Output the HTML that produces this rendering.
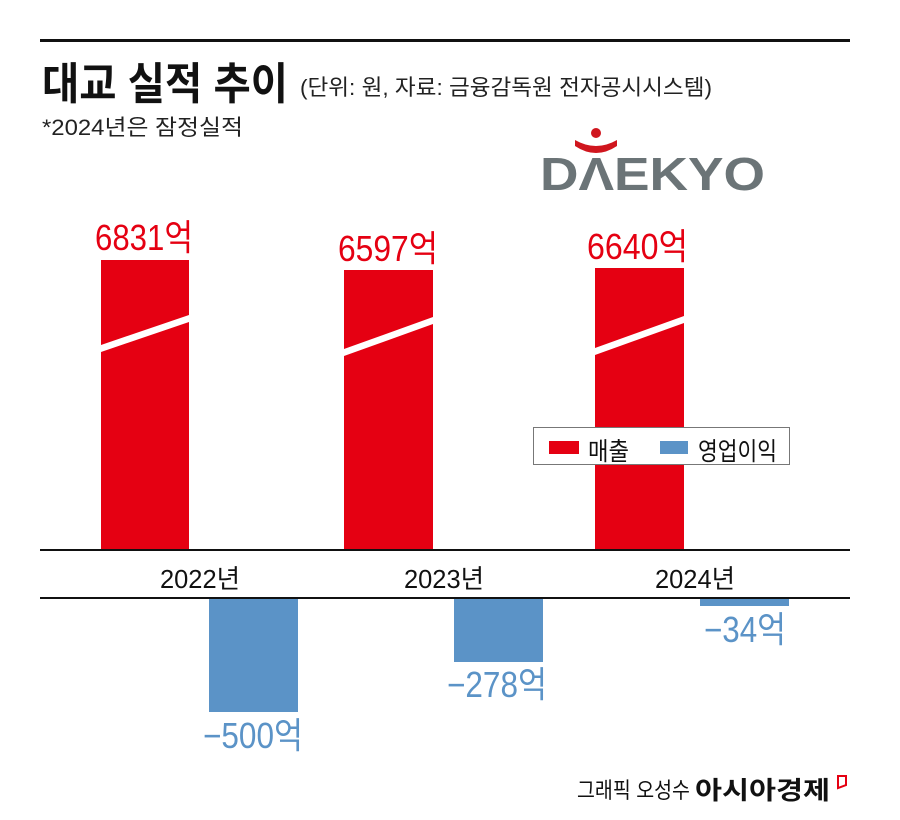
<!DOCTYPE html>
<html><head><meta charset="utf-8"><style>
body{margin:0;background:#fff;}
svg{display:block;}
text{font-family:"Liberation Sans","Noto Sans CJK KR",sans-serif;}
</style></head><body>
<svg width="900" height="820" viewBox="0 0 900 820" xmlns="http://www.w3.org/2000/svg">
<rect width="900" height="820" fill="#fff"/>
<rect x="40" y="39" width="810" height="3" fill="#111"/>
<text x="42" y="99" font-size="44" font-weight="bold" fill="#111" textLength="246" lengthAdjust="spacingAndGlyphs">대교 실적 추이</text>
<text x="300" y="95" font-size="22" fill="#222" textLength="412" lengthAdjust="spacingAndGlyphs">(단위: 원, 자료: 금융감독원 전자공시시스템)</text>
<text x="42" y="135" font-size="22" fill="#222" textLength="201" lengthAdjust="spacingAndGlyphs">*2024년은 잠정실적</text>
<!-- logo -->
<circle cx="596" cy="133" r="5" fill="#d0161e"/>
<path d="M575 140 Q596 152 617 140 L617 146 Q596 160 575 146 Z" fill="#d0161e"/>
<text x="540" y="190" font-size="46" font-weight="bold" fill="#6b7477" textLength="225" lengthAdjust="spacingAndGlyphs">DΛEKYO</text>
<!-- red bars -->
<rect x="101" y="260" width="88" height="290" fill="#e50012"/>
<rect x="344" y="270" width="89" height="280" fill="#e50012"/>
<rect x="595" y="268" width="89" height="282" fill="#e50012"/>
<polygon points="101,345 189,315 189,322 101,352" fill="#fff"/>
<polygon points="344,349 433,317 433,324 344,356" fill="#fff"/>
<polygon points="595,348 684,316 684,323 595,355" fill="#fff"/>
<text x="95" y="250" font-size="36" fill="#e50012" textLength="98" lengthAdjust="spacingAndGlyphs">6831억</text>
<text x="338" y="261" font-size="36" fill="#e50012" textLength="100" lengthAdjust="spacingAndGlyphs">6597억</text>
<text x="587" y="259" font-size="36" fill="#e50012" textLength="101" lengthAdjust="spacingAndGlyphs">6640억</text>
<!-- legend -->
<rect x="533.5" y="427.5" width="256" height="37" fill="#fff" stroke="#777" stroke-width="1"/>
<rect x="549" y="441" width="30" height="13" fill="#e50012"/>
<text x="588" y="460" font-size="25" fill="#111" textLength="41" lengthAdjust="spacingAndGlyphs">매출</text>
<rect x="660" y="441" width="28" height="13" fill="#5b93c7"/>
<text x="698" y="460" font-size="25" fill="#111" textLength="79" lengthAdjust="spacingAndGlyphs">영업이익</text>
<!-- axis lines -->
<rect x="40" y="549" width="810" height="2" fill="#111"/>
<rect x="40" y="597" width="810" height="2" fill="#111"/>
<text x="160" y="588" font-size="26" fill="#111" textLength="80" lengthAdjust="spacingAndGlyphs">2022년</text>
<text x="404" y="588" font-size="26" fill="#111" textLength="80" lengthAdjust="spacingAndGlyphs">2023년</text>
<text x="655" y="588" font-size="26" fill="#111" textLength="80" lengthAdjust="spacingAndGlyphs">2024년</text>
<!-- blue bars -->
<rect x="209" y="599" width="89" height="113" fill="#5b93c7"/>
<rect x="454" y="599" width="89" height="63" fill="#5b93c7"/>
<rect x="700" y="599" width="89" height="7" fill="#5b93c7"/>
<text x="203" y="748" font-size="36" fill="#5b93c7" textLength="100" lengthAdjust="spacingAndGlyphs">−500억</text>
<text x="447" y="697" font-size="36" fill="#5b93c7" textLength="100" lengthAdjust="spacingAndGlyphs">−278억</text>
<text x="704" y="642" font-size="36" fill="#5b93c7" textLength="82" lengthAdjust="spacingAndGlyphs">−34억</text>
<!-- footer -->
<text x="577" y="798" font-size="22" fill="#111" textLength="113" lengthAdjust="spacingAndGlyphs">그래픽 오성수</text>
<text x="695" y="799" font-size="25" font-weight="bold" fill="#111" textLength="135" lengthAdjust="spacingAndGlyphs">아시아경제</text>
<polygon points="838,776 846,776 846,785 838,788" fill="none" stroke="#e50012" stroke-width="2"/>
</svg>
</body></html>
